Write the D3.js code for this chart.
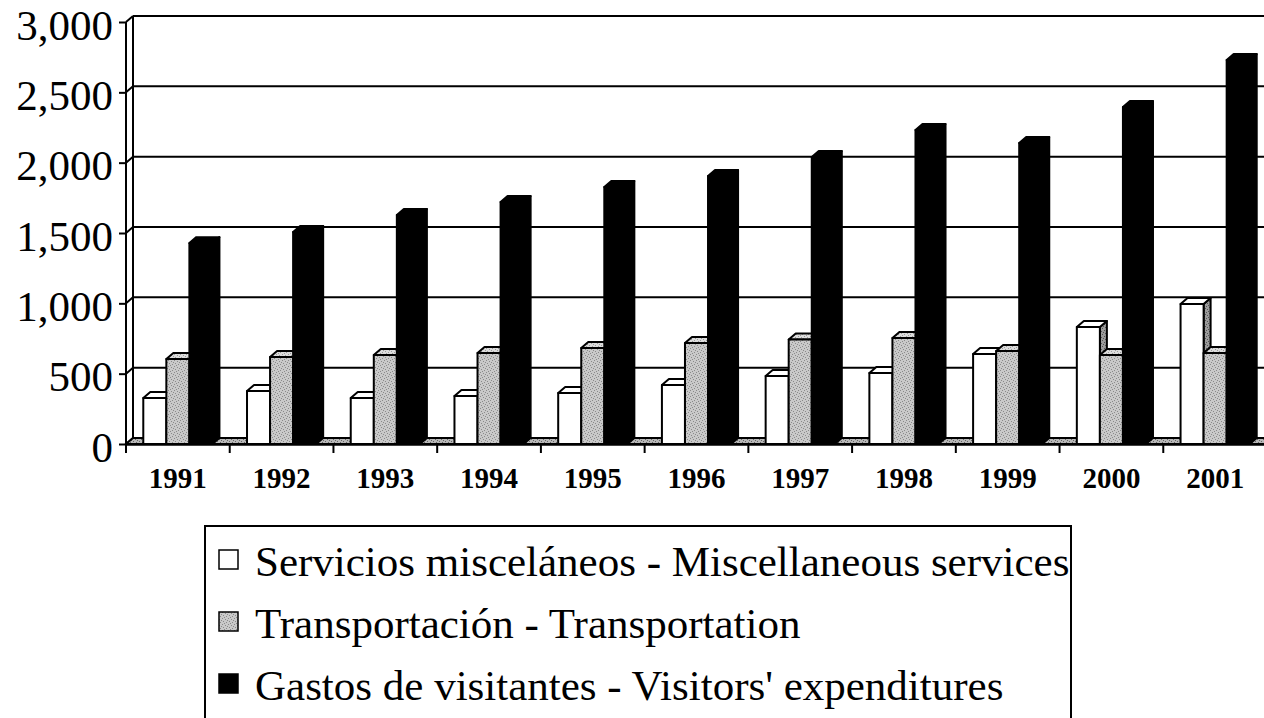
<!DOCTYPE html>
<html>
<head>
<meta charset="utf-8">
<script src="https://cdn.jsdelivr.net/npm/d3@7"></script>
<style>
  body { margin: 0; background: #fff; }
  svg { display: block; }
</style>
</head>
<body>
<svg id="chart"></svg>
<script>
// values (millions of dollars)
const years = ["1991", "1992", "1993", "1994", "1995", "1996", "1997", "1998", "1999", "2000", "2001"];
const miscServices = [327, 377, 327, 341, 362, 419, 483, 505, 640, 832, 995];
const transportation = [604, 618, 633, 647, 682, 718, 743, 753, 661, 633, 647];
const visitorSpending = [1428, 1507, 1628, 1720, 1827, 1905, 2040, 2232, 2139, 2395, 2729];
const yTicks = [0, 500, 1000, 1500, 2000, 2500, 3000];
const seriesKeys = ["misc", "trans", "visit"];
const seriesNames = [
  "Servicios misceláneos - Miscellaneous services",
  "Transportación - Transportation",
  "Gastos de visitantes - Visitors' expenditures"
];

const W = 1264, H = 718;
const depthX = 7, depthY = 6;   // 3d offset of the back wall
const plotLeft = 126, plotRight = 1267, plotBase = 444, plotTop = 22;
const serif = "'Liberation Serif', 'Times New Roman', serif";

const svg = d3.select("#chart").attr("width", W).attr("height", H);

// stipple textures for the grey series
const defs = svg.append("defs");
function stipple(id, bg, dots) {
  const p = defs.append("pattern").attr("id", id)
    .attr("width", 6).attr("height", 6).attr("patternUnits", "userSpaceOnUse");
  p.append("rect").attr("width", 6).attr("height", 6).attr("fill", bg);
  [[0,0],[3,1],[1,3],[4,4],[2,5],[5,2]].forEach(([a, b]) =>
    p.append("rect").attr("x", a).attr("y", b).attr("width", 1).attr("height", 1).attr("fill", dots));
}
stipple("grey", "#c9c9c9", "#8a8a8a");
stipple("greyTop", "#dcdcdc", "#9a9a9a");
stipple("greySide", "#9c9c9c", "#555");
stipple("floor", "#b8b8b8", "#666");

const x = d3.scaleBand().domain(years).range([plotLeft, plotRight]).paddingInner(0).paddingOuter(0);
const xs = d3.scaleBand().domain(seriesKeys).range([0, x.bandwidth()]).paddingInner(0).paddingOuter(0.75);
const y = d3.scaleLinear().domain([0, 3000]).range([plotBase, plotTop]);

const values = { misc: miscServices, trans: transportation, visit: visitorSpending };
const faces = {
  misc:  { front: "#fff", top: "#fff", side: "url(#greySide)" },
  trans: { front: "url(#grey)", top: "url(#greyTop)", side: "url(#greySide)" },
  visit: { front: "#000", top: "#000", side: "#000" }
};

// back gridlines and wall
const grid = svg.append("g").attr("stroke", "#000").attr("stroke-width", 2).attr("fill", "none");
yTicks.forEach(t => {
  grid.append("line")
    .attr("x1", plotLeft + depthX).attr("x2", W + 10)
    .attr("y1", y(t) - depthY).attr("y2", y(t) - depthY);
  grid.append("line")
    .attr("x1", plotLeft).attr("x2", plotLeft + depthX)
    .attr("y1", y(t)).attr("y2", y(t) - depthY);
});
grid.append("line").attr("x1", plotLeft).attr("x2", plotLeft).attr("y1", y(3000)).attr("y2", plotBase);
grid.append("line").attr("x1", plotLeft + depthX).attr("x2", plotLeft + depthX)
  .attr("y1", y(3000) - depthY).attr("y2", plotBase - depthY);

// floor
svg.append("polygon")
  .attr("points", [[plotLeft, plotBase], [plotRight, plotBase], [plotRight + depthX, plotBase - depthY], [plotLeft + depthX, plotBase - depthY]].join(" "))
  .attr("fill", "url(#floor)").attr("stroke", "#000").attr("stroke-width", 2);

// bars
const bars = svg.append("g").attr("stroke", "#000").attr("stroke-width", 2).attr("stroke-linejoin", "round");
years.forEach((yr, i) => {
  seriesKeys.forEach(k => {
    const v = values[k][i];
    const x0 = x(yr) + xs(k), w = xs.bandwidth(), yt = y(v);
    bars.append("polygon")
      .attr("points", [[x0 + w, yt], [x0 + w + depthX, yt - depthY], [x0 + w + depthX, plotBase - depthY], [x0 + w, plotBase]].join(" "))
      .attr("fill", faces[k].side);
    bars.append("polygon")
      .attr("points", [[x0, yt], [x0 + depthX, yt - depthY], [x0 + w + depthX, yt - depthY], [x0 + w, yt]].join(" "))
      .attr("fill", faces[k].top);
    bars.append("rect")
      .attr("x", x0).attr("y", yt).attr("width", w).attr("height", plotBase - yt)
      .attr("fill", faces[k].front);
  });
});

// y axis
const yAxis = svg.append("g").attr("transform", `translate(${plotLeft},0)`)
  .call(d3.axisLeft(y).tickValues(yTicks).tickSize(7).tickPadding(6).tickFormat(d3.format(",")));
yAxis.select(".domain").remove();
yAxis.selectAll(".tick line").attr("stroke", "#000").attr("stroke-width", 2);
yAxis.selectAll(".tick text")
  .attr("font-family", serif).attr("font-size", 43).attr("fill", "#000").attr("dy", 17);

// x axis
const xAxis = svg.append("g").attr("transform", `translate(0,${plotBase})`)
  .call(d3.axisBottom(x).tickSize(0).tickPadding(0));
xAxis.select(".domain").attr("stroke", "#000").attr("stroke-width", 2.5);
xAxis.selectAll(".tick text")
  .attr("font-family", serif).attr("font-size", 29).attr("font-weight", "bold")
  .attr("fill", "#000").attr("dy", 0).attr("y", 44);
xAxis.selectAll(".boundary").data(years.concat(["end"])).enter().append("line")
  .attr("x1", (d, i) => plotLeft + i * x.step()).attr("x2", (d, i) => plotLeft + i * x.step())
  .attr("y1", 0).attr("y2", 9).attr("stroke", "#000").attr("stroke-width", 2);

// legend
const lg = svg.append("g");
lg.append("rect").attr("x", 205).attr("y", 526).attr("width", 866).attr("height", 230)
  .attr("fill", "#fff").attr("stroke", "#000").attr("stroke-width", 2);
const swatch = ["#fff", "url(#grey)", "#000"];
seriesNames.forEach((name, i) => {
  const yy = 550 + i * 62;
  lg.append("rect").attr("x", 219).attr("y", yy).attr("width", 19).attr("height", 19)
    .attr("fill", swatch[i]).attr("stroke", "#000").attr("stroke-width", 1.5);
  lg.append("text").attr("x", 255).attr("y", yy + 26)
    .attr("font-family", serif).attr("font-size", 43).attr("fill", "#000")
    .text(name);
});
</script>
</body>
</html>
